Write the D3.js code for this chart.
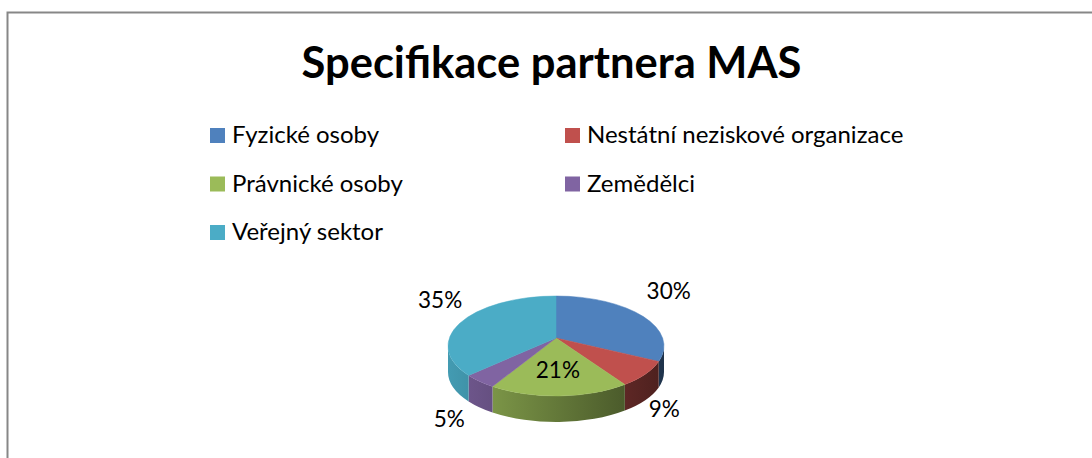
<!DOCTYPE html>
<html>
<head>
<meta charset="utf-8">
<script src="https://cdn.jsdelivr.net/npm/d3@7"></script>
<style>
  html, body { margin: 0; padding: 0; background: #fff; }
  svg { display: block; font-family: Lato, "Open Sans", sans-serif; }
</style>
</head>
<body>
<div id="chart"></div>
<script>
const categories = ['Fyzické osoby', 'Nestátní neziskové organizace', 'Právnické osoby', 'Zemědělci', 'Veřejný sektor'];
const shares = [30, 9, 21, 5, 35];
const colors = ['#4F81BD', '#C0504D', '#9BBB59', '#8064A2', '#4BACC6'];
const title = 'Specifikace partnera MAS';

const width = 1092, height = 458;
// pie geometry (flattened ellipse + perspective apex)
const cx = 556, cy = 346, rx = 108, ry = 50, apexY = 338, depth = 26;

const svg = d3.select('#chart').append('svg')
  .attr('width', width)
  .attr('height', height);

svg.append('rect').attr('width', width).attr('height', height).attr('fill', '#fff');

// chart frame (cut off by the window on the right and bottom)
svg.append('rect')
  .attr('x', 7.5).attr('y', 12.5)
  .attr('width', 1300).attr('height', 700)
  .attr('fill', 'none')
  .attr('stroke', '#878787')
  .attr('stroke-width', 2);

// fit a text to a target width by scaling its font size
function fitSize(sel, base, target) {
  sel.style('font-size', base + 'px');
  const w = sel.node().getComputedTextLength();
  return base * target / w;
}

// Title
const titleText = svg.append('text')
  .attr('x', 551.5).attr('y', 78)
  .attr('text-anchor', 'middle')
  .style('font-weight', 'bold')
  .style('fill', '#000')
  .text(title);
titleText.style('font-size', fitSize(titleText, 40, 500) + 'px');

// Legend
const legendSize = 24;

const legend = svg.append('g')
  .selectAll('g')
  .data(categories)
  .enter()
  .append('g')
  .attr('transform', (d, i) => `translate(${i % 2 ? 565 : 210},${128 + Math.floor(i / 2) * 48.5})`);

legend.append('rect')
  .attr('width', 15).attr('height', 15)
  .attr('fill', (d, i) => colors[i]);

legend.append('text')
  .attr('x', 22).attr('y', 15)
  .style('font-size', legendSize + 'px')
  .style('fill', '#000')
  .text(d => d);

// Pie
const pie = d3.pie().sort(null).value(d => d);
const arcs = pie(shares);

const px = a => cx + rx * Math.sin(a);
const py = a => cy - ry * Math.cos(a);

const defs = svg.append('defs');
colors.forEach((c, i) => {
  const g = defs.append('linearGradient')
    .attr('id', 'side' + i)
    .attr('gradientUnits', 'userSpaceOnUse')
    .attr('x1', cx - rx).attr('x2', cx + rx)
    .attr('y1', 0).attr('y2', 0);
  g.append('stop').attr('offset', '0%').attr('stop-color', d3.color(c).darker(0.3));
  g.append('stop').attr('offset', '100%').attr('stop-color', d3.color(c).darker(2.6));
});

// side walls, only the front half (between 90° and 270°) is visible
const sides = svg.append('g');
arcs.forEach((d, i) => {
  const s0 = Math.max(d.startAngle, Math.PI / 2);
  const s1 = Math.min(d.endAngle, 3 * Math.PI / 2);
  if (s1 <= s0) return;
  const large = s1 - s0 > Math.PI ? 1 : 0;
  const path = `M${px(s0)},${py(s0)}`
    + `A${rx},${ry} 0 ${large} 1 ${px(s1)},${py(s1)}`
    + `L${px(s1)},${py(s1) + depth}`
    + `A${rx},${ry} 0 ${large} 0 ${px(s0)},${py(s0) + depth}Z`;
  sides.append('path')
    .attr('d', path)
    .attr('fill', `url(#side${i})`);
});

// top faces
svg.append('g')
  .selectAll('path')
  .data(arcs)
  .enter()
  .append('path')
  .attr('d', d => {
    const large = d.endAngle - d.startAngle > Math.PI ? 1 : 0;
    return `M${cx},${apexY}L${px(d.startAngle)},${py(d.startAngle)}`
      + `A${rx},${ry} 0 ${large} 1 ${px(d.endAngle)},${py(d.endAngle)}Z`;
  })
  .attr('fill', (d, i) => colors[i])
  .attr('stroke', (d, i) => colors[i])
  .attr('stroke-width', 0.5);

// data labels
const labelSize = 22.5;
const labelRx = 112, labelRy = 67;
svg.append('g')
  .selectAll('text')
  .data(arcs)
  .enter()
  .append('text')
  .style('font-size', labelSize + 'px')
  .style('fill', '#000')
  .each(function (d) {
    const mid = (d.startAngle + d.endAngle) / 2;
    const s = Math.sin(mid), c = Math.cos(mid);
    const t = d3.select(this);
    if (Math.abs(mid - Math.PI) < Math.PI / 6) {
      // inside label for the front slice
      const x = cx + 0.55 * (px(mid) - cx);
      const y = apexY + 0.55 * (py(mid) - apexY);
      t.attr('x', x).attr('y', y + labelSize * 0.35).attr('text-anchor', 'middle');
    } else {
      const x = cx + labelRx * s + (s < 0 && c < 0 ? -12 : 0) + (s < 0 && c > 0 ? 6 : 0);
      let y = apexY - labelRy * c;
      if (c < 0) y += depth + labelSize * 0.7;
      t.attr('x', x).attr('y', y).attr('text-anchor', s > 0 ? 'start' : 'end');
    }
  })
  .text(d => Math.round((d.endAngle - d.startAngle) / (2 * Math.PI) * 100) + '%');
</script>
</body>
</html>
